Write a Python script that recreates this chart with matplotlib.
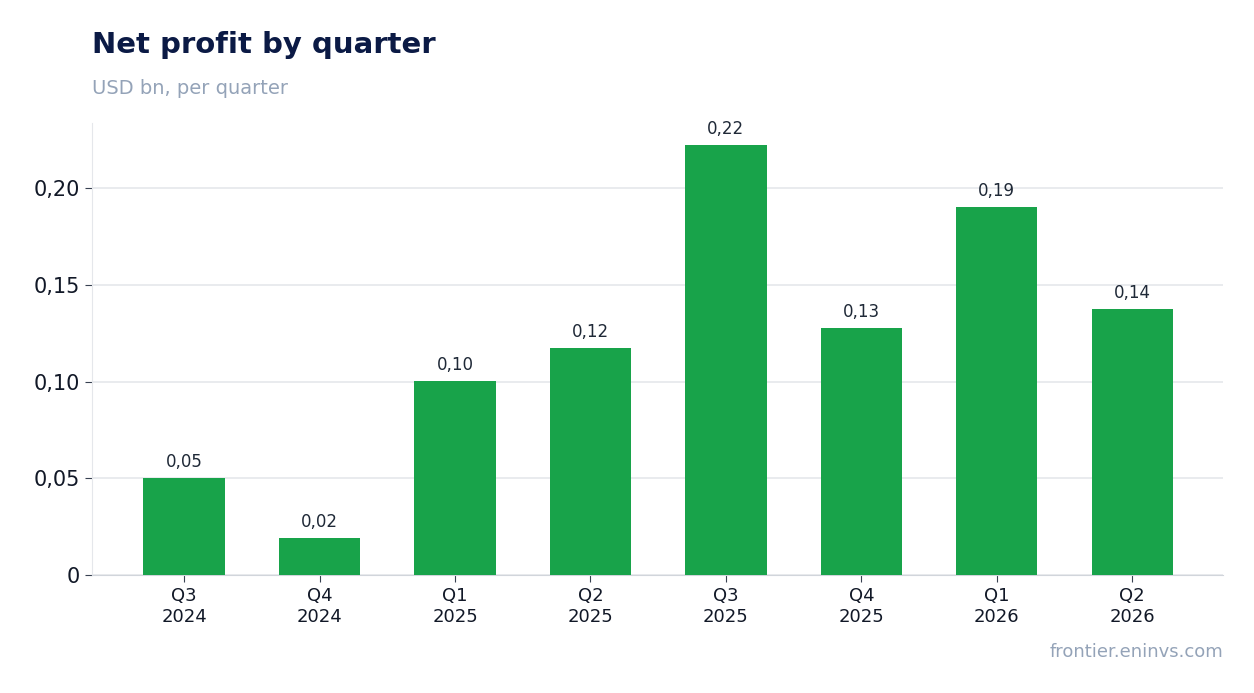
import matplotlib
matplotlib.use("Agg")
import matplotlib.pyplot as plt

categories = ["Q3\n2024", "Q4\n2024", "Q1\n2025", "Q2\n2025", "Q3\n2025", "Q4\n2025", "Q1\n2026", "Q2\n2026"]
values = [0.0501, 0.0191, 0.1003, 0.1173, 0.2222, 0.1276, 0.1902, 0.1375]
labels = ["0,05", "0,02", "0,10", "0,12", "0,22", "0,13", "0,19", "0,14"]
yticks = [0, 0.05, 0.10, 0.15, 0.20]
yticklabels = ["0", "0,05", "0,10", "0,15", "0,20"]

fig = plt.figure(figsize=(12.54, 6.93), dpi=100)
ax = fig.add_axes([92/1254, 1-575/693, (1223-92)/1254, (575-123)/693])
x = range(len(values))
ax.bar(x, values, width=0.6, color="#18a34a", zorder=3)
for i, (v, l) in enumerate(zip(values, labels)):
    ax.text(i, v + 0.0035, l, ha="center", va="bottom", fontsize=12, color="#1f2937")
ax.set_xlim(-0.68, 7.67)
ax.set_ylim(0, 0.2336)
ax.set_yticks(yticks)
ax.set_yticklabels(yticklabels, fontsize=15, color="#111827")
ax.set_xticks(list(x))
ax.set_xticklabels(categories, fontsize=13, color="#111827")
ax.grid(axis="y", color="#e5e7eb", linewidth=1.2, zorder=0)
for s in ["top", "right"]:
    ax.spines[s].set_visible(False)
ax.spines["left"].set_color("#e5e7eb")
ax.spines["bottom"].set_color("#d1d5db")
ax.tick_params(axis="both", color="#374151", length=5)
fig.text(92/1254, 1-45/693, "Net profit by quarter", fontsize=21, fontweight="bold", color="#0b1a45", va="center")
fig.text(92/1254, 1-88/693, "USD bn, per quarter", fontsize=14, color="#94a3b8", va="center")
fig.text(1223/1254, 1-652/693, "frontier.eninvs.com", fontsize=13, color="#94a3b8", ha="right", va="center")
fig.savefig("out.png", dpi=100)
